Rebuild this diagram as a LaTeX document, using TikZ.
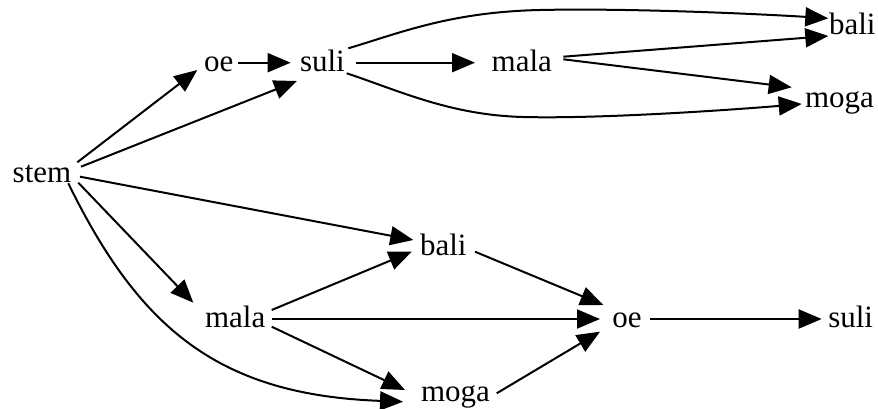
\documentclass[tikz,border=0pt]{standalone}
\usepackage{fontspec}
\setmainfont{Liberation Serif}
\usetikzlibrary{arrows.meta,calc}
\tikzset{
  lbl/.style={inner sep=0pt, outer sep=0pt, anchor=base west, font=\fontsize{31}{36}\selectfont},
  edge/.style={line width=2pt, -{Triangle[length=23pt,width=19pt]}}
}
\begin{document}
\begin{tikzpicture}[x=1pt,y=-1pt]
\useasboundingbox (0,0) rectangle (878,409);
% nodes (placed by left end of baseline)
\node[lbl] (stem)  at (12.7,182.7) {stem};
\node[lbl] (oeA)   at (204,71.7)   {oe};
\node[lbl] (suliA) at (300,71.7)   {suli};
\node[lbl] (malaA) at (491.7,71.7) {mala};
\node[lbl] (baliA) at (829,34.3)   {bali};
\node[lbl] (mogaA) at (805,107.7)  {moga};
\node[lbl] (baliB) at (420,255)    {bali};
\node[lbl] (malaB) at (205,327.7)  {mala};
\node[lbl] (oeB)   at (612.3,327.3) {oe};
\node[lbl] (suliB) at (828.3,327)  {suli};
\node[lbl] (mogaB) at (421,401.7)  {moga};
% edges
\draw[edge] ($(stem.base west)+(64.6,-20.4)$) -- ($(oeA.base west)+(-6.7,-1.7)$);
\draw[edge] ($(stem.base west)+(68.3,-16)$) -- ($(suliA.base west)+(-3,9.3)$);
\draw[edge] ($(oeA.base west)+(34.3,-9)$) -- ($(suliA.base west)+(-9.3,-9)$);
\draw[edge] ($(suliA.base west)+(56,-9)$) -- ($(malaA.base west)+(-16.7,-9)$);
\draw[edge] ($(suliA.base west)+(48.3,-23.4)$) .. controls (400,33) and (450,12) .. (540,10)
            .. controls (630,8) and (760,14) .. ($(baliA.base west)+(-0.7,-16)$);
\draw[edge] ($(suliA.base west)+(46.7,1.6)$) .. controls (400,91) and (450,115) .. (523,117)
            .. controls (600,119) and (730,110) .. ($(mogaA.base west)+(-3.3,-3.7)$);
\draw[edge] ($(malaA.base west)+(71.6,-15)$) -- ($(baliA.base west)+(-0.7,1.7)$);
\draw[edge] ($(malaA.base west)+(71.6,-12.4)$) -- ($(mogaA.base west)+(-13.3,-20.4)$);
\draw[edge] ($(stem.base west)+(67.3,-6)$) -- ($(baliB.base west)+(-6.7,-15)$);
\draw[edge] ($(stem.base west)+(65.6,0)$) -- ($(malaB.base west)+(-11.7,-25)$);
\draw[edge] ($(stem.base west)+(55.6,0.6)$) .. controls (140,330) and (220,395) .. ($(mogaB.base west)+(-18,0)$);
\draw[edge] ($(malaB.base west)+(66.7,-17.7)$) -- ($(baliB.base west)+(-8.3,-3.3)$);
\draw[edge] ($(malaB.base west)+(66.7,-8.7)$) -- ($(oeB.base west)+(-12.3,-8.3)$);
\draw[edge] ($(malaB.base west)+(66.7,-1)$) -- ($(mogaB.base west)+(-16,-11.7)$);
\draw[edge] ($(baliB.base west)+(55,-3.3)$) -- ($(oeB.base west)+(-9,-22.3)$);
\draw[edge] ($(mogaB.base west)+(75.7,-8.4)$) -- ($(oeB.base west)+(-12.3,4.4)$);
\draw[edge] ($(oeB.base west)+(37.7,-8.3)$) -- ($(suliB.base west)+(-6.6,-8)$);
\end{tikzpicture}
\end{document}
